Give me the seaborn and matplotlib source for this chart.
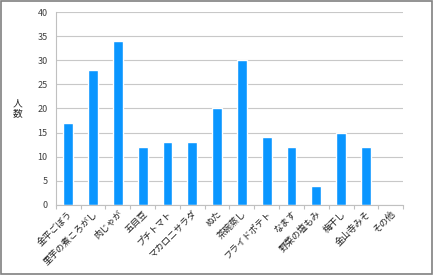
import matplotlib
matplotlib.use("Agg")
import matplotlib.pyplot as plt
import seaborn as sns
import pandas as pd
from matplotlib.patches import Rectangle

categories = ["金平ごぼう", "里芋の煮ころがし", "肉じゃが", "五目豆", "プチトマト", "マカロニサラダ",
              "ぬた", "茶碗蒸し", "フライドポテト", "なます", "野菜の塩もみ", "梅干し", "金山寺みそ", "その他"]
values = [17, 28, 34, 12, 13, 13, 20, 30, 14, 12, 4, 15, 12, 0]
yticks = [0, 5, 10, 15, 20, 25, 30, 35, 40]

sns.set_theme(style="white")
plt.rcParams['font.family'] = ['Noto Sans CJK JP', 'DejaVu Sans']

df = pd.DataFrame({"cat": categories, "val": values})

fig = plt.figure(figsize=(4.33, 2.75), dpi=100)
ax = fig.add_axes([0.129, 0.255, 0.802, 0.701])
sns.barplot(data=df, x="cat", y="val", color="#0A96FF", width=0.4, ax=ax, saturation=1)

ax.set_ylim(0, 40)
ax.set_yticks(yticks)
ax.set_xlim(-0.5, len(categories) - 0.5)
ax.grid(axis="y", color="#c8c8c8", linewidth=0.8)
ax.set_axisbelow(True)
for s in ["top", "right"]:
    ax.spines[s].set_visible(False)
for s in ["left", "bottom"]:
    ax.spines[s].set_color("#c0c0c0")
    ax.spines[s].set_linewidth(0.8)

ax.tick_params(axis="y", labelsize=6.5, colors="#404040", length=0, pad=6)
ax.set_xticks(range(len(categories)))
ax.set_xticklabels(categories, rotation=45, ha="right", rotation_mode="anchor", fontsize=6.5, color="#202020")
ax.tick_params(axis="x", length=0, pad=3)
# boundary ticks
ax.set_xticks([i - 0.5 for i in range(len(categories) + 1)], minor=True)
ax.tick_params(axis="x", which="minor", length=3, color="#c0c0c0", width=0.8, bottom=True)

ax.set_xlabel("")
ax.set_ylabel("人\n数", rotation=0, fontsize=7, labelpad=14, va="center", linespacing=1.0)

fig.patches.append(Rectangle((0.003, 0.004), 0.994, 0.992, transform=fig.transFigure,
                             fill=False, edgecolor="#808080", linewidth=1.2))

fig.savefig("out.png", dpi=100)
